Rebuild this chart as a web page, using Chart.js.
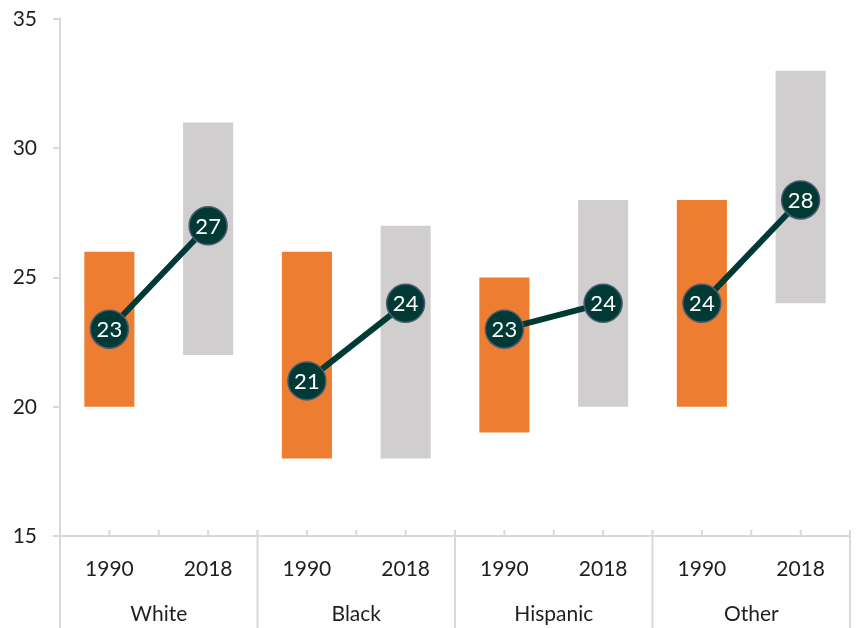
<!DOCTYPE html>
<html>
<head>
<meta charset="utf-8">
<script src="https://cdn.jsdelivr.net/npm/chart.js@4"></script>
<style>
  html, body { margin: 0; padding: 0; background: #fff; }
  #wrap { width: 856px; height: 628px; }
</style>
</head>
<body>
<div id="wrap"><canvas id="chart" width="856" height="628"></canvas></div>
<script>
const years = ['1990', '2018', '1990', '2018', '1990', '2018', '1990', '2018'];
const groups = ['White', 'Black', 'Hispanic', 'Other'];
const lows = [20, 22, 18, 18, 19, 20, 20, 24];
const highs = [26, 31, 26, 27, 25, 28, 28, 33];
const medians = [23, 27, 21, 24, 23, 24, 24, 28];
const barColors = ['#ED7D31', '#D0CECE'];

const axisGray = '#d9d9d9';
const textColor = '#1f1f1f';
const fontFamily = 'Lato, "Open Sans", sans-serif';

const ranges = lows.map((lo, i) => [lo, highs[i]]);

// draws inward ticks, group separators and group names under the years
const groupAxis = {
  id: 'groupAxis',
  afterDraw(chart) {
    const ctx = chart.ctx;
    const x = chart.scales.x;
    const bottom = chart.chartArea.bottom;
    const half = (x.getPixelForValue(1) - x.getPixelForValue(0)) / 2;
    ctx.save();
    ctx.strokeStyle = axisGray;
    ctx.lineWidth = 2;
    for (let i = 0; i < years.length; i++) {
      const c = x.getPixelForValue(i);
      [c - half, c].forEach(px => {
        ctx.beginPath();
        ctx.moveTo(px, bottom - 6);
        ctx.lineTo(px, bottom);
        ctx.stroke();
      });
    }
    for (let g = 0; g <= groups.length; g++) {
      const px = g < groups.length ? x.getPixelForValue(g * 2) - half : x.getPixelForValue(years.length - 1) + half;
      ctx.beginPath();
      ctx.moveTo(px, bottom - 6);
      ctx.lineTo(px, chart.height);
      ctx.stroke();
    }
    ctx.fillStyle = textColor;
    ctx.font = '21px ' + fontFamily;
    ctx.textAlign = 'center';
    ctx.textBaseline = 'middle';
    groups.forEach((name, g) => {
      const mid = (x.getPixelForValue(g * 2) + x.getPixelForValue(g * 2 + 1)) / 2;
      ctx.fillText(name, mid, 614);
    });
    ctx.restore();
  }
};

// white value text inside each circle
const pointText = {
  id: 'pointText',
  afterDatasetsDraw(chart) {
    const ctx = chart.ctx;
    const meta = chart.getDatasetMeta(1);
    ctx.save();
    ctx.fillStyle = '#ffffff';
    ctx.font = '22px ' + fontFamily;
    ctx.textAlign = 'center';
    ctx.textBaseline = 'middle';
    meta.data.forEach((pt, i) => {
      ctx.fillText(String(medians[i]), pt.x, pt.y + 1);
    });
    ctx.restore();
  }
};

new Chart(document.getElementById('chart'), {
  data: {
    labels: years,
    datasets: [
      {
        type: 'bar',
        data: ranges,
        backgroundColor: years.map((y, i) => barColors[i % 2]),
        categoryPercentage: 1,
        barPercentage: 0.507,
        order: 2
      },
      {
        type: 'line',
        data: medians,
        borderColor: '#013a35',
        borderWidth: 6,
        segment: {
          borderColor: c => (c.p0DataIndex % 2 === 1 ? 'rgba(0,0,0,0)' : '#013a35')
        },
        pointRadius: 19,
        pointHoverRadius: 19,
        pointBackgroundColor: '#013a35',
        pointBorderColor: '#4b5b72',
        pointBorderWidth: 1.5,
        order: 1
      }
    ]
  },
  options: {
    responsive: false,
    animation: false,
    layout: { autoPadding: false, padding: { top: 19, right: 6, left: 0, bottom: 0 } },
    plugins: {
      legend: { display: false },
      tooltip: { enabled: false }
    },
    scales: {
      x: {
        type: 'category',
        offset: true,
        grid: { display: false },
        border: { display: true, color: axisGray, width: 2 },
        ticks: {
          color: textColor,
          font: { family: fontFamily, size: 21 },
          padding: 13,
          maxRotation: 0
        },
        afterFit: s => { s.height = 92; s.paddingLeft = 0; s.paddingRight = 0; }
      },
      y: {
        min: 15,
        max: 35,
        ticks: {
          stepSize: 5,
          color: textColor,
          font: { family: fontFamily, size: 21 },
          padding: 16
        },
        grid: { drawOnChartArea: false, color: axisGray, lineWidth: 2, tickLength: 7 },
        border: { display: true, color: axisGray, width: 2 },
        afterFit: s => { s.width = 60; s.paddingTop = 0; s.paddingBottom = 0; }
      }
    }
  },
  plugins: [groupAxis, pointText]
});
</script>
</body>
</html>
